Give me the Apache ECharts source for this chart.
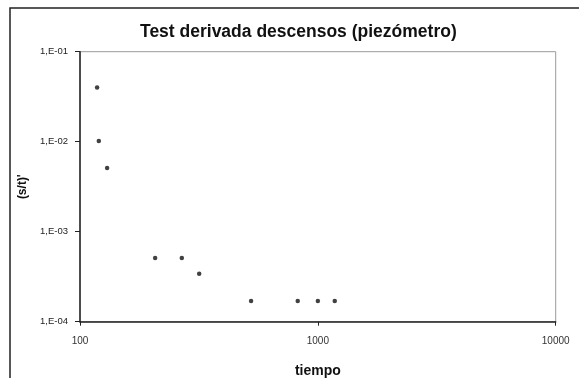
<!DOCTYPE html>
<html>
<head>
<meta charset="utf-8">
<script src="https://cdn.jsdelivr.net/npm/echarts@6/dist/echarts.min.js"></script>
<style>
html,body{margin:0;padding:0;background:#fff;}
#c{width:579px;height:378px;}
</style>
</head>
<body>
<div id="c"></div>
<script>
var chartTitle = 'Test derivada descensos (piezómetro)';
var xName = 'tiempo';
var yName = "(s/t)'";
var tiempo = [118, 120, 130, 207, 268, 317, 524, 823, 1000, 1178];
var derivada = [0.04, 0.0102, 0.0051, 0.00051, 0.00051, 0.00034, 0.00017, 0.00017, 0.00017, 0.00017];
var xTickLabels = {100: '100', 1000: '1000', 10000: '10000'};
var yTickLabels = ['1,E-04', '1,E-03', '1,E-02', '1,E-01'];

var points = tiempo.map(function (t, i) { return [t, derivada[i]]; });
var FONT = 'Liberation Sans, Arial, sans-serif';

var chart = echarts.init(document.getElementById('c'), null, {renderer: 'canvas'});
chart.setOption({
  animation: false,
  backgroundColor: '#ffffff',
  title: {
    text: chartTitle,
    left: 140,
    top: 23,
    padding: 0,
    textStyle: {fontFamily: FONT, fontSize: 17.5, fontWeight: 'bold', color: '#111'}
  },
  graphic: [{
    type: 'rect',
    shape: {x: 10, y: 8, width: 640, height: 420},
    style: {fill: 'none', stroke: '#222', lineWidth: 1.5},
    silent: true
  }],
  grid: {
    left: 80, right: 23.3, top: 51.7, bottom: 56.3,
    outerBoundsMode: 'none', containLabel: false,
    show: true, borderColor: '#9a9a9a', borderWidth: 1, backgroundColor: 'transparent'
  },
  xAxis: {
    type: 'log', logBase: 10, min: 100, max: 10000,
    name: xName, nameLocation: 'middle', nameGap: 42,
    nameTextStyle: {fontFamily: FONT, fontSize: 14, fontWeight: 'bold', color: '#111'},
    axisLine: {show: true, lineStyle: {color: '#222', width: 1.5}},
    axisTick: {show: true, inside: false, length: 4, lineStyle: {color: '#222'}},
    axisLabel: {
      margin: 15, fontFamily: FONT, fontSize: 10, color: '#333',
      formatter: function (v) { return xTickLabels[Math.round(v)] || ''; }
    },
    splitLine: {show: false}
  },
  yAxis: {
    type: 'log', logBase: 10, min: 0.0001, max: 0.1,
    name: yName, nameLocation: 'middle', nameGap: 46, nameRotate: 90,
    nameTextStyle: {fontFamily: FONT, fontSize: 12, fontWeight: 'bold', color: '#111'},
    axisLine: {show: true, lineStyle: {color: '#222', width: 1.5}},
    axisTick: {show: true, inside: false, length: 5, lineStyle: {color: '#222'}},
    axisLabel: {
      margin: 12, fontFamily: FONT, fontSize: 9.5, color: '#222',
      formatter: function (v) {
        var e = Math.round(Math.log10(v));
        return yTickLabels[e + 4] || '';
      }
    },
    splitLine: {show: false}
  },
  series: [{
    type: 'scatter',
    data: points,
    symbol: 'circle',
    symbolSize: 4.5,
    itemStyle: {color: '#111'}
  }]
});
</script>
</body>
</html>
